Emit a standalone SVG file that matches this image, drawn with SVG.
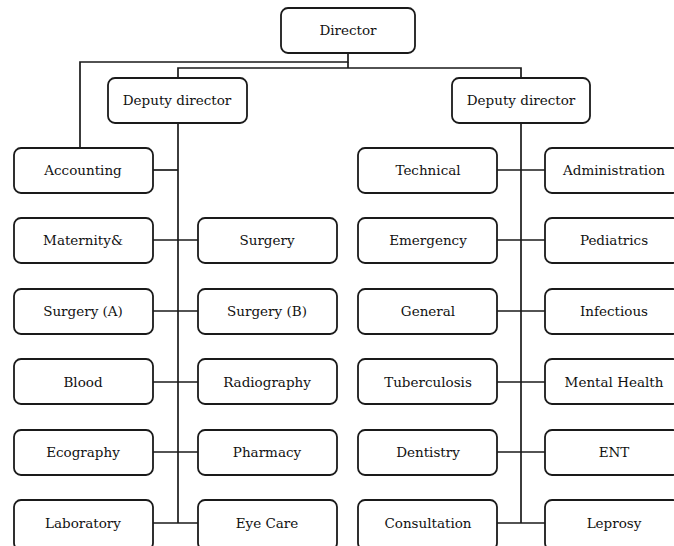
<svg xmlns="http://www.w3.org/2000/svg" width="674" height="546" viewBox="0 0 674 546">
<style>
.box{fill:#fff;stroke:#1a1a1a;stroke-width:1.8}
.t{font-family:"DejaVu Serif","Liberation Serif",serif;font-size:13.5px;fill:#111;text-anchor:middle;dominant-baseline:central}
.c{fill:none;stroke:#1a1a1a;stroke-width:1.7}
</style>
<rect width="674" height="546" fill="#fff"/>
<g id="connectors">
<polyline class="c" points="348,53 348,62 80,62 80,148"/>
<polyline class="c" points="178,78 178,68 521,68 521,78"/>
<line class="c" x1="348" y1="62" x2="348" y2="68"/>
<line class="c" x1="178" y1="123" x2="178" y2="523"/>
<line class="c" x1="521" y1="123" x2="521" y2="523"/>
<line class="c" x1="153" y1="170" x2="178" y2="170"/>
<line class="c" x1="153" y1="240" x2="198" y2="240"/>
<line class="c" x1="153" y1="311" x2="198" y2="311"/>
<line class="c" x1="153" y1="382" x2="198" y2="382"/>
<line class="c" x1="153" y1="452" x2="198" y2="452"/>
<line class="c" x1="153" y1="523" x2="198" y2="523"/>
<line class="c" x1="497" y1="170" x2="545" y2="170"/>
<line class="c" x1="497" y1="240" x2="545" y2="240"/>
<line class="c" x1="497" y1="311" x2="545" y2="311"/>
<line class="c" x1="497" y1="382" x2="545" y2="382"/>
<line class="c" x1="497" y1="452" x2="545" y2="452"/>
<line class="c" x1="497" y1="523" x2="545" y2="523"/>
</g>
<g id="director"><rect class="box" x="281" y="8" width="134" height="45" rx="7"/><text class="t" x="348" y="30">Director</text></g>
<g id="deputy-left"><rect class="box" x="108" y="78" width="139" height="45" rx="7"/><text class="t" x="177" y="100">Deputy director</text></g>
<g id="deputy-right"><rect class="box" x="452" y="78" width="138" height="45" rx="7"/><text class="t" x="521" y="100">Deputy director</text></g>

<g id="accounting"><rect class="box" x="14" y="148" width="139" height="45" rx="7"/><text class="t" x="83" y="170">Accounting</text></g>
<g id="maternity"><rect class="box" x="14" y="218" width="139" height="45" rx="7"/><text class="t" x="83" y="240">Maternity&amp;</text></g>
<g id="surgery-a"><rect class="box" x="14" y="289" width="139" height="45" rx="7"/><text class="t" x="83" y="311">Surgery (A)</text></g>
<g id="blood"><rect class="box" x="14" y="359" width="139" height="45" rx="7"/><text class="t" x="83" y="382">Blood</text></g>
<g id="ecography"><rect class="box" x="14" y="430" width="139" height="45" rx="7"/><text class="t" x="83" y="452">Ecography</text></g>
<g id="laboratory"><rect class="box" x="14" y="500" width="139" height="50" rx="7"/><text class="t" x="83" y="523">Laboratory</text></g>

<g id="surgery"><rect class="box" x="198" y="218" width="139" height="45" rx="7"/><text class="t" x="267" y="240">Surgery</text></g>
<g id="surgery-b"><rect class="box" x="198" y="289" width="139" height="45" rx="7"/><text class="t" x="267" y="311">Surgery (B)</text></g>
<g id="radiography"><rect class="box" x="198" y="359" width="139" height="45" rx="7"/><text class="t" x="267" y="382">Radiography</text></g>
<g id="pharmacy"><rect class="box" x="198" y="430" width="139" height="45" rx="7"/><text class="t" x="267" y="452">Pharmacy</text></g>
<g id="eye-care"><rect class="box" x="198" y="500" width="139" height="50" rx="7"/><text class="t" x="267" y="523">Eye Care</text></g>

<g id="technical"><rect class="box" x="358" y="148" width="139" height="45" rx="7"/><text class="t" x="428" y="170">Technical</text></g>
<g id="emergency"><rect class="box" x="358" y="218" width="139" height="45" rx="7"/><text class="t" x="428" y="240">Emergency</text></g>
<g id="general"><rect class="box" x="358" y="289" width="139" height="45" rx="7"/><text class="t" x="428" y="311">General</text></g>
<g id="tuberculosis"><rect class="box" x="358" y="359" width="139" height="45" rx="7"/><text class="t" x="428" y="382">Tuberculosis</text></g>
<g id="dentistry"><rect class="box" x="358" y="430" width="139" height="45" rx="7"/><text class="t" x="428" y="452">Dentistry</text></g>
<g id="consultation"><rect class="box" x="358" y="500" width="139" height="50" rx="7"/><text class="t" x="428" y="523">Consultation</text></g>

<g id="administration"><rect class="box" x="545" y="148" width="135" height="45" rx="7"/><text class="t" x="614" y="170">Administration</text></g>
<g id="pediatrics"><rect class="box" x="545" y="218" width="135" height="45" rx="7"/><text class="t" x="614" y="240">Pediatrics</text></g>
<g id="infectious"><rect class="box" x="545" y="289" width="135" height="45" rx="7"/><text class="t" x="614" y="311">Infectious</text></g>
<g id="mental-health"><rect class="box" x="545" y="359" width="135" height="45" rx="7"/><text class="t" x="614" y="382">Mental Health</text></g>
<g id="ent"><rect class="box" x="545" y="430" width="135" height="45" rx="7"/><text class="t" x="614" y="452">ENT</text></g>
<g id="leprosy"><rect class="box" x="545" y="500" width="135" height="50" rx="7"/><text class="t" x="614" y="523">Leprosy</text></g>
</svg>
